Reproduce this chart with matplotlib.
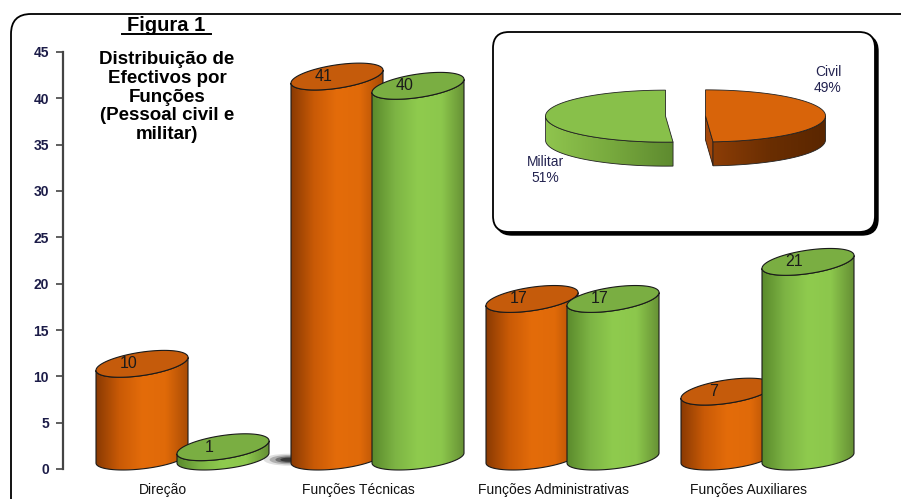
import numpy as np
import matplotlib.pyplot as plt
from matplotlib.patches import Polygon, FancyBboxPatch, Ellipse
from matplotlib.colors import LinearSegmentedColormap

plt.rcParams['font.family'] = ['Liberation Sans', 'DejaVu Sans']

categorias = ["Direção", "Funções Técnicas", "Funções Administrativas", "Funções Auxiliares"]
civil = [10, 41, 17, 7]
militar = [1, 40, 17, 21]
pie_labels = ["Civil", "Militar"]
pie_pct = [49, 51]
yticks = list(range(0, 46, 5))

W, H = 901, 499
fig = plt.figure(figsize=(W / 100, H / 100), dpi=100)

# frame layer in pixel units
bg = fig.add_axes([0, 0, 1, 1], zorder=0)
bg.set_xlim(0, W)
bg.set_ylim(H, 0)
bg.axis('off')
bg.add_patch(FancyBboxPatch((11, 14), 960, 560, boxstyle="round,pad=0,rounding_size=20",
                            fc='white', ec='black', lw=1.3))
# inset frame with drop shadow
bg.add_patch(FancyBboxPatch((496, 35), 382, 200, boxstyle="round,pad=0,rounding_size=16",
                            fc='black', ec='black', lw=1.0))
bg.add_patch(FancyBboxPatch((493, 32), 382, 200, boxstyle="round,pad=0,rounding_size=16",
                            fc='white', ec='black', lw=1.3))

bg.text(166, 31, "Figura 1", ha='center', va='baseline', fontsize=14.5, fontweight='bold')
bg.plot([122, 211], [34, 34], color='black', lw=1.4)
bg.text(167, 97, "Distribuição de\nEfectivos por\nFunções\n(Pessoal civil e\nmilitar)",
        ha='center', va='center', fontsize=13.5, fontweight='bold', linespacing=1.12)

# main cylinder chart
px_per_val = (469 - 52) / 45.0
ymin = -0.3
bottom_px = 469 - ymin * px_per_val
cat_px = 195.0
ax = fig.add_axes([63 / W, (H - bottom_px) / H, (880 - 63) / W, (bottom_px - 52) / H], zorder=1)
ax.patch.set_alpha(0)

A = 46 / cat_px          # cylinder radius (category units)
OFF = 40.5 / cat_px      # half distance between the two series
TOP_OFF, TOP_B, TOP_K = 1.35, 1.27, 0.70
BOT_Y, BOT_B, BOT_K = 1.19, 1.18, 0.54

cmap_or = LinearSegmentedColormap.from_list('or', ['#8a3a03', '#c95a06', '#e46c0a', '#e06a09', '#a84b05'],
                                            N=256)
cmap_gr = LinearSegmentedColormap.from_list('gr', ['#5a8a2c', '#7db444', '#8fcb4e', '#8cc74c', '#658f34'],
                                            N=256)


def cylinder(xc, v, cmap, top_col, z):
    t = np.linspace(np.pi, 2 * np.pi, 80)
    bx = xc + A * np.cos(t)
    by = BOT_Y + BOT_B * np.sin(t) + BOT_K * np.cos(t)
    ty = v + TOP_OFF + TOP_B * np.sin(t) + TOP_K * np.cos(t)
    body = np.column_stack([np.r_[bx, bx[::-1]], np.r_[by, ty[::-1]]])
    poly = Polygon(body, closed=True, fc='none', ec='#1a1a1a', lw=0.8, zorder=z + 0.2)
    ax.add_patch(poly)
    grad = np.linspace(0, 1, 256).reshape(1, -1)
    im = ax.imshow(grad, cmap=cmap, extent=[xc - A, xc + A, by.min() - 0.5, ty.max() + 0.5],
                   aspect='auto', origin='lower', zorder=z, interpolation='bilinear')
    im.set_clip_path(poly)
    im.set_clip_box(None)
    tt = np.linspace(0, 2 * np.pi, 160)
    cap = np.column_stack([xc + A * np.cos(tt),
                           v + TOP_OFF + TOP_B * np.sin(tt) + TOP_K * np.cos(tt)])
    ax.add_patch(Polygon(cap, closed=True, fc=top_col, ec='#1a1a1a', lw=0.8, zorder=z + 0.3))
    ax.text(xc - 0.07, v + TOP_OFF, str(v), ha='center', va='center', fontsize=11.5,
            color='#1a1a1a', zorder=30)


# soft shadow beside the tallest civil cylinder
sx = 1 - OFF - A
for w, h, al in ((0.13, 1.3, 0.12), (0.10, 1.0, 0.22), (0.07, 0.7, 0.35), (0.045, 0.45, 0.5)):
    ax.add_patch(Ellipse((sx - 0.01, 1.0), w * 2, h, angle=0,
                         fc='black', ec='none', alpha=al, zorder=1.5))

for i in range(len(categorias)):
    cylinder(i - OFF, civil[i], cmap_or, '#c55b0b', 2 + 2 * i)
    cylinder(i + OFF, militar[i], cmap_gr, '#7aae42', 3 + 2 * i)

ax.set_xlim((63 - 182.5) / cat_px, (880 - 182.5) / cat_px)
ax.set_ylim(ymin, 45)
ax.set_yticks(yticks)
ax.set_xticks([i - 0.1 for i in range(len(categorias))])
ax.set_xticklabels(categorias, fontsize=10, color='#111111')
ax.tick_params(axis='x', length=0, pad=8)
ax.tick_params(axis='y', length=5, width=1.2, color='#444444', pad=5, labelsize=10,
               labelcolor='#1c1c48')
for lab in ax.get_yticklabels():
    lab.set_fontweight('bold')
for s in ('top', 'right', 'bottom'):
    ax.spines[s].set_visible(False)
ax.spines['left'].set_bounds(0, 45)
ax.spines['left'].set_color('#444444')
ax.spines['left'].set_linewidth(1.6)

# inset 3D pie
pax = fig.add_axes([493 / W, (H - 232) / H, 382 / W, 200 / H], zorder=2)
pax.set_xlim(0, 382)
pax.set_ylim(0, 200)
pax.axis('off')
PCX, PCY, PA, PB, PH, EXPL = 192.5, 116, 120, 26, 24, 20

side_or = LinearSegmentedColormap.from_list('sor', ['#8c3d06', '#6a2e02', '#5a2600'])
side_gr = LinearSegmentedColormap.from_list('sgr', ['#8fc44e', '#78aa3e', '#5e8a2f'])


def slice3d(th0, th1, top_col, side_cmap, cut_col):
    bis = np.radians((th0 + th1) / 2)
    cx = PCX + EXPL * np.cos(bis)
    cy = PCY + EXPL * (PB / PA) * np.sin(bis)
    # cut faces turned towards the viewer
    for ang, sgn in ((th0, -1), (th1, 1)):
        n = np.radians(ang + sgn * 90)
        if np.sin(n) < -1e-3:
            r = np.radians(ang)
            ex, ey = cx + PA * np.cos(r), cy + PB * np.sin(r)
            pax.add_patch(Polygon([(cx, cy), (ex, ey), (ex, ey - PH), (cx, cy - PH)],
                                  fc=cut_col, ec='#2a1a10', lw=0.6, zorder=2))
    th = np.radians(np.linspace(th0, th1, 400))
    front = th[np.sin(th) <= 0]
    if len(front) > 1:
        x = cx + PA * np.cos(front)
        y = cy + PB * np.sin(front)
        side = Polygon(np.column_stack([np.r_[x, x[::-1]], np.r_[y, y[::-1] - PH]]),
                       fc='none', ec='#222222', lw=0.6, zorder=3.2)
        pax.add_patch(side)
        grad = np.linspace(0, 1, 256).reshape(1, -1)
        im = pax.imshow(grad, cmap=side_cmap, extent=[x.min(), x.max(), y.min() - PH - 2, y.max() + 2],
                        aspect='auto', origin='lower', zorder=3, interpolation='bilinear')
        im.set_clip_path(side)
        im.set_clip_box(None)
    top = np.column_stack([np.r_[cx, cx + PA * np.cos(th)], np.r_[cy, cy + PB * np.sin(th)]])
    pax.add_patch(Polygon(top, closed=True, fc=top_col, ec='#222222', lw=0.6, zorder=4))


start = 90.0
civ_span = 360 * pie_pct[0] / 100
slice3d(start - civ_span, start, '#d8640a', side_or, '#a5480a')
slice3d(start, start + 360 * pie_pct[1] / 100, '#88c04a', side_gr, '#6f9f3a')
pax.set_xlim(0, 382)
pax.set_ylim(0, 200)

pax.text(335, 152, f"{pie_labels[0]}\n{pie_pct[0]}%", ha='center', va='center', fontsize=10,
         color='#232350', linespacing=1.1)
pax.text(52, 62, f"{pie_labels[1]}\n{pie_pct[1]}%", ha='center', va='center', fontsize=10,
         color='#232350', linespacing=1.1)

fig.savefig('out.png', dpi=100)
